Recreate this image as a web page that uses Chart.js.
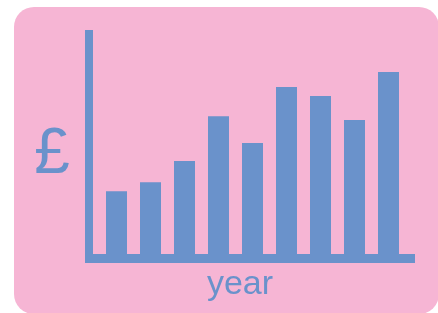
<!DOCTYPE html>
<html>
<head>
<meta charset="utf-8">
<script src="https://cdn.jsdelivr.net/npm/chart.js@4"></script>
<style>
  html, body { margin: 0; padding: 0; background: #fff; overflow: hidden; }
  #bg { position: absolute; left: 14px; top: 7px; width: 425px; height: 307px;
        background: #F6B5D4; border-radius: 20px; }
  #wrap { position: absolute; left: 0; top: 0; width: 438px; height: 313px; }
</style>
</head>
<body>
<div id="bg"></div>
<div id="wrap"><canvas id="c"></canvas></div>
<script>
// Bar chart — £ by year
const BLUE = '#6A92CB';

const YEARS  = ['1', '2', '3', '4', '5', '6', '7', '8', '9'];
const VALUES = [2.8, 3.2, 4.15, 6.15, 4.95, 7.45, 7.05, 5.98, 8.12];
const Y_MAX  = 10;

// thick axis lines + hand-drawn labels
const decor = {
  id: 'decor',
  afterDatasetsDraw(chart) {
    const { ctx, chartArea: a } = chart;
    ctx.save();
    ctx.fillStyle = BLUE;
    ctx.fillRect(a.left - 14.5, a.top, 8, a.bottom - a.top + 9);
    ctx.fillRect(a.left - 14.5, a.bottom, a.right - a.left + 24, 9);

    ctx.font = "64px 'Liberation Sans', Arial, sans-serif";
    ctx.textAlign = 'center';
    ctx.textBaseline = 'alphabetic';
    ctx.fillText('£', 52, 173);

    ctx.font = "34px 'Liberation Sans', Arial, sans-serif";
    ctx.fillText('year', 240, 294);
    ctx.restore();
  },
};

new Chart(document.getElementById('c'), {
  type: 'bar',
  data: {
    labels: YEARS,
    datasets: [{
      data: VALUES,
      backgroundColor: BLUE,
      borderWidth: 0,
      categoryPercentage: 1,
      barPercentage: 21 / 34,
    }],
  },
  options: {
    responsive: true, maintainAspectRatio: false,
    animation: false,
    layout: { padding: { left: 99.5, right: 32.5, top: 30, bottom: 59 } },
    plugins: { legend: { display: false }, tooltip: { enabled: false } },
    scales: {
      x: { display: false, grid: { display: false } },
      y: { display: false, min: 0, max: Y_MAX },
    },
  },
  plugins: [decor],
});
</script>
</body>
</html>
